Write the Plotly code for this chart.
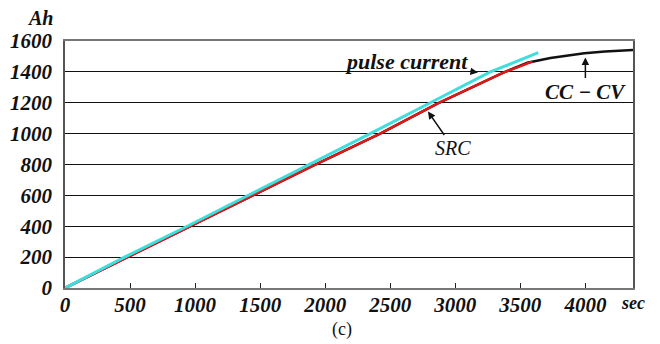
import plotly.graph_objects as go

# Data
cc_cv_t = [0, 1400, 1900, 2423, 2862, 3369, 3554, 3731, 3850, 3992, 4150, 4366]
cc_cv_ah = [0, 580, 790, 1000, 1195, 1395, 1459, 1490, 1505, 1520, 1532, 1542]
src_t = [0, 1400, 1900, 2423, 2862, 3369, 3592]
src_ah = [0, 580, 790, 1000, 1195, 1395, 1466]
pulse_t = [0, 458, 939, 1412, 1885, 2346, 2808, 3269, 3638]
pulse_ah = [0, 200, 400, 600, 800, 1000, 1200, 1400, 1524]

x_ticks = [0, 500, 1000, 1500, 2000, 2500, 3000, 3500, 4000]
y_ticks = [0, 200, 400, 600, 800, 1000, 1200, 1400, 1600]

SERIF = "Liberation Serif"

fig = go.Figure()
fig.add_trace(go.Scatter(x=cc_cv_t, y=cc_cv_ah, mode="lines", name="CC-CV",
                         line=dict(color="#111111", width=2.5)))
fig.add_trace(go.Scatter(x=src_t, y=src_ah, mode="lines", name="SRC",
                         line=dict(color="#e01818", width=2.5)))
fig.add_trace(go.Scatter(x=pulse_t, y=pulse_ah, mode="lines", name="pulse current",
                         line=dict(color="#3fdede", width=3)))

tickfont = dict(family=SERIF, size=21, color="#111111", weight="bold", style="italic")

# page body adds ~8px offset; figure sized to compensate
fig.update_layout(
    width=652, height=336,
    margin=dict(l=57, r=27, t=33, b=56),
    paper_bgcolor="white", plot_bgcolor="white",
    showlegend=False,
    xaxis=dict(range=[0, 4366], tickvals=x_ticks, ticktext=[str(v) for v in x_ticks],
               ticks="inside", ticklen=5, tickcolor="#222", tickwidth=1.2,
               showgrid=False, zeroline=False, automargin=False,
               ticklabelstandoff=-3,
               showline=True, linecolor="#777", linewidth=1.5, mirror=True,
               tickfont=tickfont),
    yaxis=dict(range=[0, 1600], tickvals=y_ticks, ticktext=[str(v) for v in y_ticks],
               ticks="", showgrid=True, gridcolor="#111111", gridwidth=1.3,
               zeroline=False, automargin=False, ticklabelstandoff=7,
               showline=True, linecolor="#555", linewidth=1.5, mirror=True,
               tickfont=tickfont),
)

annots = [
    dict(text="Ah", xref="paper", yref="paper", x=-0.017, y=1.093, xanchor="right", yanchor="middle",
         showarrow=False, font=dict(family=SERIF, size=20, color="#111", weight="bold", style="italic")),
    dict(text="sec", xref="paper", yref="paper", x=1.0, y=-0.061, xanchor="center", yanchor="middle",
         showarrow=False, font=dict(family=SERIF, size=18, color="#111", weight="bold", style="italic")),
    dict(text="(c)", xref="paper", yref="paper", x=0.487, y=-0.17, xanchor="center", yanchor="middle",
         showarrow=False, font=dict(family=SERIF, size=18, color="#111")),
    dict(text="pulse current", x=3174, y=1396, xref="x", yref="y",
         ax=-71, ay=-11, axref="pixel", ayref="pixel",
         showarrow=True, arrowhead=2, arrowsize=1, arrowwidth=1.5, arrowcolor="#111",
         xanchor="center",
         font=dict(family=SERIF, size=22, color="#111", weight="bold", style="italic")),
    dict(text="CC − CV", x=4000, y=1493, xref="x", yref="y",
         ax=0, ay=34, showarrow=True, arrowhead=2, arrowsize=1, arrowwidth=1.5, arrowcolor="#111",
         font=dict(family=SERIF, size=21, color="#111", weight="bold", style="italic")),
    dict(text="SRC", x=2790, y=1143, xref="x", yref="y",
         ax=25, ay=36, showarrow=True, arrowhead=2, arrowsize=1, arrowwidth=1.5, arrowcolor="#111",
         font=dict(family=SERIF, size=20, color="#111", style="italic")),
]
fig.update_layout(annotations=annots)

fig.write_html("out.html")
